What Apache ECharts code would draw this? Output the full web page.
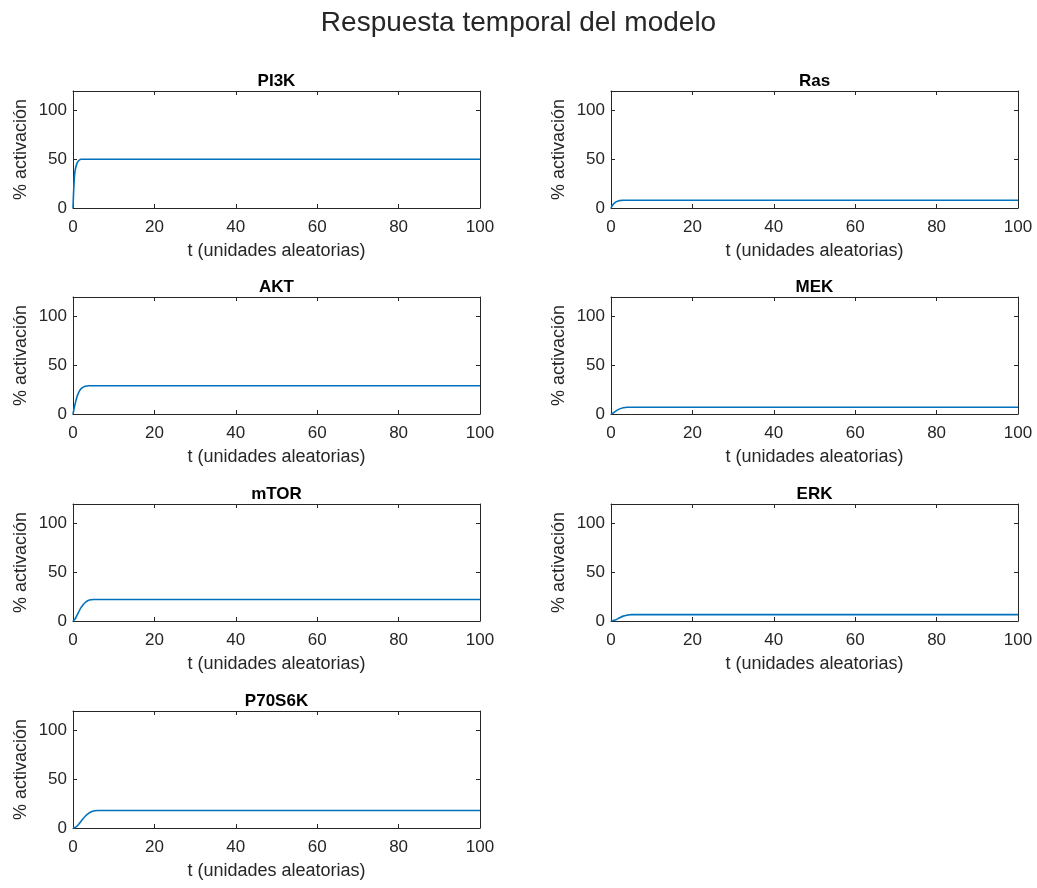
<!DOCTYPE html>
<html>
<head>
<meta charset="utf-8">
<script src="https://cdn.jsdelivr.net/npm/echarts@6/dist/echarts.min.js"></script>
<style>
  html, body { margin: 0; padding: 0; background: #fff; }
  #chart { width: 1037px; height: 888px; }
</style>
</head>
<body>
<div id="chart"></div>
<script>
// Simulated time course of each node (t, % activation)
const panelNames = ['PI3K', 'Ras', 'AKT', 'MEK', 'mTOR', 'ERK', 'P70S6K'];

const tPI3K   = [0, 0.25, 0.5, 1, 1.5, 2, 3, 100];
const vPI3K   = [0, 25, 38, 46, 49, 50, 50, 50];

const tRas    = [0, 0.5, 1, 1.5, 2, 3, 100];
const vRas    = [0, 3.5, 5.5, 6.8, 7.5, 8, 8];

const tAKT    = [0, 0.5, 1, 1.5, 2, 3, 4, 100];
const vAKT    = [0, 10, 18, 23, 26, 28.5, 29, 29];

const tMEK    = [0, 0.5, 1, 2, 3, 4, 100];
const vMEK    = [0, 1, 2.5, 5, 6.5, 7, 7];

const tmTOR   = [0, 0.5, 1, 1.5, 2, 3, 4, 5, 100];
const vmTOR   = [0, 2, 6, 10, 14, 19, 21.5, 22, 22];

const tERK    = [0, 1, 2, 3, 4, 5, 6, 100];
const vERK    = [0, 1, 3, 5, 6, 6.5, 6.5, 6.5];

const tP70S6K = [0, 0.5, 1, 2, 3, 4, 5, 6, 100];
const vP70S6K = [0, 0.5, 2, 7, 12, 15.5, 17.5, 18, 18];

const xTicks = [0, 20, 40, 60, 80, 100];
const yTicks = [0, 50, 100];

const panelT = [tPI3K, tRas, tAKT, tMEK, tmTOR, tERK, tP70S6K];
const panelV = [vPI3K, vRas, vAKT, vMEK, vmTOR, vERK, vP70S6K];

const FONT = 'Liberation Sans, Arial, Helvetica, sans-serif';
const INK = '#262626';
const colLeft = [73, 611];
const plotW = 407;
const rowTop = [91, 297, 504, 711];
const plotH = 117;

const grids = [], xAxes = [], yAxes = [], series = [];

const title = {
  text: 'Respuesta temporal del modelo',
  left: 'center', top: 4,
  textStyle: { fontFamily: FONT, fontSize: 28, fontWeight: 'normal', color: INK }
};

panelNames.forEach((name, i) => {
  const col = i % 2, row = Math.floor(i / 2);
  grids.push({ left: colLeft[col], top: rowTop[row], width: plotW, height: plotH, show: false });

  const line = { show: true, onZero: false, lineStyle: { color: INK, width: 1 } };
  const tickX = { show: true, inside: true, length: 4, customValues: xTicks, lineStyle: { color: INK, width: 1 } };
  const tickY = { show: true, inside: true, length: 4, customValues: yTicks, lineStyle: { color: INK, width: 1 } };

  // bottom x axis with tick labels and name
  xAxes.push({
    type: 'value', gridIndex: i, min: 0, max: 100,
    position: 'bottom',
    axisLine: line, axisTick: tickX, splitLine: { show: false },
    axisLabel: { color: INK, fontFamily: FONT, fontSize: 17, margin: 11, customValues: xTicks },
    name: 't (unidades aleatorias)', nameLocation: 'middle', nameGap: 34,
    nameTextStyle: { color: INK, fontFamily: FONT, fontSize: 18 }
  });
  // top edge of the box, carries the panel title
  xAxes.push({
    type: 'value', gridIndex: i, min: 0, max: 100,
    position: 'top',
    axisLine: line, axisTick: tickX, splitLine: { show: false },
    axisLabel: { show: false },
    name: name, nameLocation: 'middle', nameGap: 1,
    nameTextStyle: { color: '#000', fontFamily: FONT, fontSize: 17, fontWeight: 'bold' }
  });
  // left y axis with tick labels and name
  yAxes.push({
    type: 'value', gridIndex: i, min: 0, max: 120,
    position: 'left',
    axisLine: line, axisTick: tickY, splitLine: { show: false },
    axisLabel: { color: INK, fontFamily: FONT, fontSize: 17, margin: 6, customValues: yTicks },
    name: '% activación', nameLocation: 'middle', nameGap: 43,
    nameTextStyle: { color: INK, fontFamily: FONT, fontSize: 18 }
  });
  // right edge of the box
  yAxes.push({
    type: 'value', gridIndex: i, min: 0, max: 120,
    position: 'right',
    axisLine: line, axisTick: tickY, splitLine: { show: false },
    axisLabel: { show: false }
  });

  series.push({
    type: 'line',
    xAxisIndex: 2 * i, yAxisIndex: 2 * i,
    data: panelT[i].map((t, k) => [t, panelV[i][k]]),
    smooth: 0.4,
    showSymbol: false,
    lineStyle: { color: '#0072BD', width: 1.6 },
    silent: true
  });
});

const chart = echarts.init(document.getElementById('chart'), null, { renderer: 'canvas' });
chart.setOption({
  backgroundColor: '#fff',
  animation: false,
  title: title,
  grid: grids,
  xAxis: xAxes,
  yAxis: yAxes,
  series: series
});
</script>
</body>
</html>
